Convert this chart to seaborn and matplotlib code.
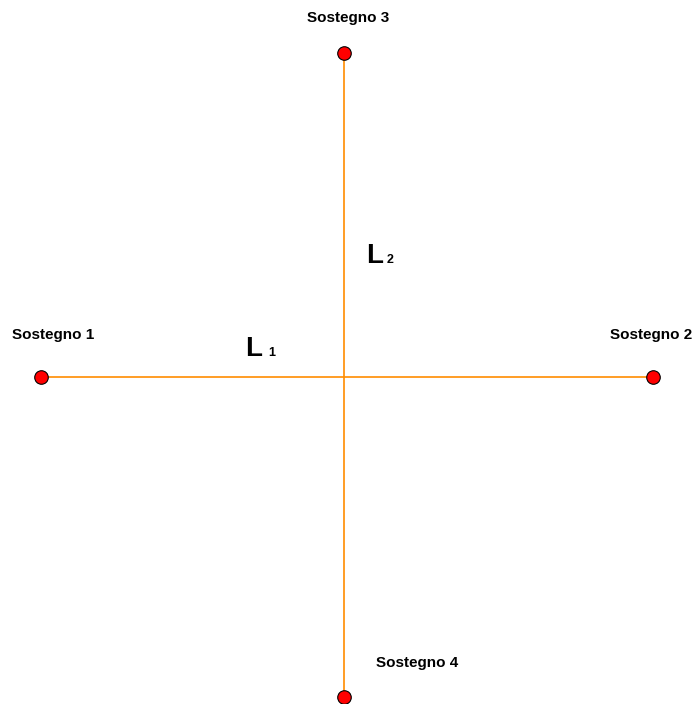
import matplotlib
matplotlib.use("Agg")
import matplotlib.pyplot as plt
import seaborn as sns
import pandas as pd

# %% data: support positions (image-like coordinates, y grows downward)
supports = ["Sostegno 1", "Sostegno 2", "Sostegno 3", "Sostegno 4"]
sx = [41, 653, 344, 344]
sy = [377, 377, 53, 697]
spans = ["L1", "L1", "L2", "L2"]

df = pd.DataFrame({"name": supports, "x": sx, "y": sy, "span": spans})

# %% plot
sns.set_theme(style="white")
plt.rcParams["font.family"] = ["Liberation Sans", "DejaVu Sans"]
plt.rcParams["text.color"] = "black"

fig = plt.figure(figsize=(6.98, 7.04), dpi=100)
ax = fig.add_axes([0, 0, 1, 1])

sns.lineplot(data=df, x="x", y="y", units="span", estimator=None, sort=False,
             color="#ff8c00", linewidth=1.2, ax=ax, legend=False)
sns.scatterplot(data=df, x="x", y="y", color="#ff0000", edgecolor="black",
                linewidth=0.8, s=95, ax=ax, legend=False, zorder=3)

# support labels
lab_pos = {"Sostegno 1": (12, 335), "Sostegno 2": (610, 335),
           "Sostegno 3": (307, 18), "Sostegno 4": (376, 663)}
for name in supports:
    lx, ly = lab_pos[name]
    ax.text(lx, ly, name, fontsize=11, fontweight="bold", ha="left", va="center",
            color="black")

# span labels
ax.text(245, 356, "L", fontsize=20, fontweight="bold", va="baseline", color="black")
ax.text(268, 356, "1", fontsize=9, fontweight="bold", va="baseline", color="black")
ax.text(366, 263, "L", fontsize=20, fontweight="bold", va="baseline", color="black")
ax.text(387, 263, "2", fontsize=9, fontweight="bold", va="baseline", color="black")

ax.set_xlim(0, 698)
ax.set_ylim(704, 0)
ax.set_axis_off()

fig.savefig("out.png", dpi=100)
